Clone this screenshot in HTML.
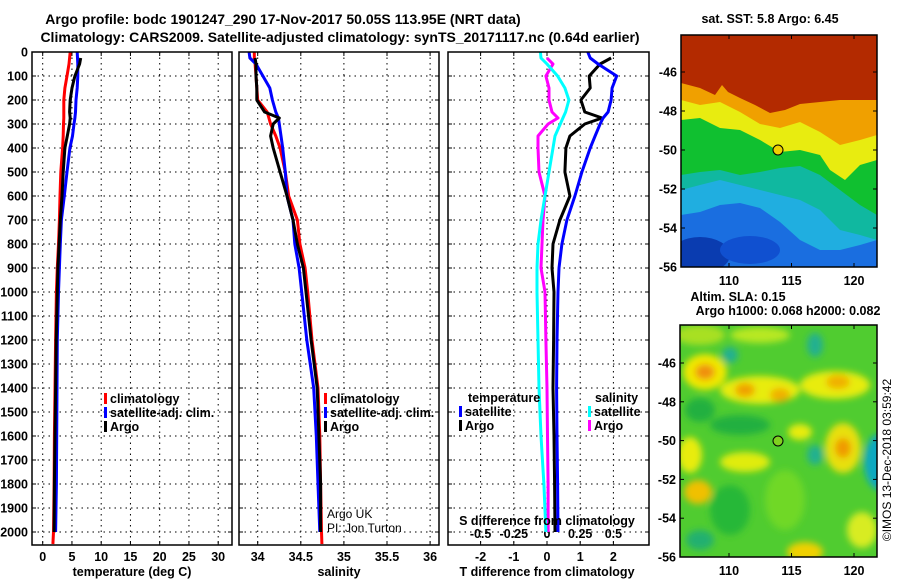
<!DOCTYPE html>
<html><head><meta charset="utf-8"><style>
html,body{margin:0;padding:0;background:#fff;}
svg{display:block;font-family:"Liberation Sans",Arial,sans-serif;}
.t{font-weight:bold;font-size:12.5px;fill:#000;}
.ti{font-weight:bold;font-size:14px;fill:#000;}
</style></head><body>
<svg id="fig" width="900" height="580" viewBox="0 0 900 580" xmlns="http://www.w3.org/2000/svg">
<defs>
<filter id="blur" x="-20%" y="-20%" width="140%" height="140%"><feGaussianBlur stdDeviation="3.5"/></filter>
<clipPath id="c1"><rect x="681" y="35" width="196" height="232"/></clipPath>
<clipPath id="c2"><rect x="680" y="325" width="197" height="232"/></clipPath>
</defs>
<text class="ti" x="283" y="24" text-anchor="middle">Argo profile: bodc 1901247_290 17-Nov-2017 50.05S 113.95E (NRT data)</text>
<text class="ti" x="340" y="42" text-anchor="middle">Climatology: CARS2009. Satellite-adjusted climatology: synTS_20171117.nc (0.64d earlier)</text>
<g id="plots"></g>

<!-- SST map -->
<g>
<text class="t" x="770" y="23" text-anchor="middle">sat. SST: 5.8 Argo: 6.45</text>
<g clip-path="url(#c1)">
<rect x="681" y="35" width="196" height="232" fill="#1a6ee0"/>
<ellipse cx="700" cy="255" rx="30" ry="18" fill="#0a3cb0"/>
<ellipse cx="750" cy="250" rx="30" ry="14" fill="#1050d0"/>
<polygon fill="#20aee0" points="681,35 681,215 700,212 720,205 740,203 760,208 780,222 800,240 820,250 840,250 860,245 877,240 877,35"/>
<polygon fill="#10b8a0" points="681,35 681,190 700,185 720,180 740,185 760,190 780,195 800,200 820,210 840,230 860,235 877,240 877,35"/>
<polygon fill="#10c030" points="681,35 681,175 700,172 720,170 740,175 760,172 780,168 800,166 820,175 840,190 860,205 877,215 877,35"/>
<polygon fill="#e8ec10" points="681,35 681,120 700,118 720,128 740,130 760,140 780,152 800,150 820,155 830,170 845,180 860,165 877,160 877,35"/>
<polygon fill="#f0a000" points="681,35 681,100 700,105 720,102 740,112 760,124 780,128 800,122 820,132 840,145 860,140 877,135 877,35"/>
<polygon fill="#b32a00" points="681,35 681,83 700,88 715,95 722,85 728,92 740,98 755,105 770,113 785,110 800,104 820,102 840,100 860,100 877,100 877,35"/>
</g>
<rect x="681" y="35" width="196" height="232" fill="none" stroke="#000" stroke-width="1.5"/>
<circle cx="778" cy="150" r="5" fill="#f0d000" stroke="#000"/>
<g id="m1ticks"></g>
</g>

<!-- SLA map -->
<g>
<text class="t" x="738" y="301" text-anchor="middle">Altim. SLA: 0.15</text>
<text class="t" x="788" y="315" text-anchor="middle">Argo h1000: 0.068 h2000: 0.082</text>
<g clip-path="url(#c2)">
<rect x="680" y="325" width="197" height="232" fill="#50cc30"/>
<g filter="url(#blur)">
<ellipse cx="700" cy="335" rx="25" ry="10" fill="#a8e020"/>
<ellipse cx="760" cy="335" rx="30" ry="8" fill="#b8e820"/>
<ellipse cx="740" cy="425" rx="30" ry="10" fill="#20b040"/>
<ellipse cx="700" cy="410" rx="15" ry="12" fill="#20b040"/>
<ellipse cx="730" cy="510" rx="20" ry="25" fill="#28b838"/>
<ellipse cx="785" cy="500" rx="20" ry="30" fill="#70d828"/>
<ellipse cx="705" cy="372" rx="22" ry="18" fill="#f0e800"/>
<ellipse cx="705" cy="372" rx="10" ry="8" fill="#f09010"/>
<ellipse cx="760" cy="390" rx="40" ry="14" fill="#e8ec10"/>
<ellipse cx="745" cy="390" rx="10" ry="7" fill="#f0a000"/>
<ellipse cx="780" cy="395" rx="10" ry="7" fill="#f0b000"/>
<ellipse cx="835" cy="385" rx="35" ry="14" fill="#e8ec10"/>
<ellipse cx="838" cy="382" rx="12" ry="7" fill="#f0b000"/>
<ellipse cx="690" cy="455" rx="12" ry="18" fill="#e8ec10"/>
<ellipse cx="698" cy="492" rx="14" ry="12" fill="#f0c000"/>
<ellipse cx="745" cy="462" rx="25" ry="10" fill="#e0ec10"/>
<ellipse cx="800" cy="432" rx="12" ry="8" fill="#e8ec10"/>
<ellipse cx="843" cy="448" rx="18" ry="25" fill="#e8e010"/>
<ellipse cx="843" cy="448" rx="8" ry="10" fill="#f09a00"/>
<ellipse cx="805" cy="552" rx="18" ry="10" fill="#f0d000"/>
<ellipse cx="862" cy="530" rx="15" ry="18" fill="#d8ec20"/>
<ellipse cx="880" cy="462" rx="16" ry="28" fill="#10a8c0"/>
<ellipse cx="815" cy="345" rx="8" ry="12" fill="#20b090"/>
<ellipse cx="730" cy="355" rx="8" ry="8" fill="#20b090"/>
<ellipse cx="815" cy="455" rx="8" ry="10" fill="#20b090"/>
<ellipse cx="700" cy="540" rx="14" ry="10" fill="#20b070"/>
</g>
</g>
<rect x="680" y="325" width="197" height="232" fill="none" stroke="#000" stroke-width="1.5"/>
<circle cx="778" cy="441" r="5" fill="#80d020" stroke="#000"/>
<g id="m2ticks"></g>
<text x="891" y="460" font-size="12" text-anchor="middle" transform="rotate(-90 891 460)">©IMOS 13-Dec-2018 03:59:42</text>
</g>

<script>
const depths = [0,25,50,100,150,200,250,275,300,350,400,500,600,700,800,900,1000,1200,1400,1600,1800,2000,2050];
const tempClim = [4.7,4.6,4.5,4.15,3.8,3.6,3.6,3.6,3.55,3.5,3.4,3.1,2.95,2.85,2.7,2.5,2.35,2.2,2.1,2.0,1.95,1.85,1.75];
const tempSat = [5.9,5.95,6.0,6.0,5.9,5.7,5.6,5.5,5.35,5.1,4.65,4.15,3.7,3.2,3.0,2.85,2.7,2.5,2.45,2.4,2.35,2.2,null];
const tempArgo = [null,6.5,6.3,5.5,5.0,4.7,4.6,4.7,4.6,4.2,3.8,3.5,3.3,3.0,2.8,2.6,2.5,2.3,2.2,2.1,2.0,1.95,null];
const salClim = [33.96,33.96,33.97,33.98,33.99,34.0,34.11,34.13,34.15,34.21,34.26,34.32,34.36,34.46,34.49,34.55,34.58,34.63,34.70,34.72,34.73,34.74,34.745];
const salSat = [33.90,33.91,33.98,34.06,34.14,34.17,34.21,34.24,34.25,34.27,34.29,34.32,34.34,34.41,34.43,34.48,34.51,34.57,34.65,34.68,34.70,34.72,null];
const salArgo = [null,33.97,33.98,33.98,33.99,33.99,34.08,34.25,34.18,34.15,34.18,34.26,34.34,34.41,34.46,34.53,34.56,34.62,34.69,34.71,34.73,34.73,null];
const tDiffSat = [1.23,1.3,1.54,2.1,1.96,1.93,1.84,1.69,1.6,1.45,1.3,1.05,0.84,0.6,0.45,0.36,0.33,0.3,0.29,0.3,0.32,0.33,null];
const tDiffArgo = [null,1.93,1.6,1.27,1.3,1.02,1.14,1.66,1.14,0.69,0.57,0.54,0.69,0.39,0.18,0.15,0.21,0.2,0.18,0.21,0.23,0.24,null];
const sDiffSat = [-0.05,-0.045,0,0.08,0.135,0.165,0.14,0.12,0.1,0.06,0.045,0.015,-0.015,-0.045,-0.068,-0.075,-0.075,-0.068,-0.06,-0.045,-0.023,-0.008,null];
const sDiffArgo = [null,0,0.045,-0.008,0.015,0.015,0.038,0.083,0.008,-0.068,-0.068,-0.06,-0.015,-0.03,-0.038,-0.045,-0.015,-0.008,0,0.004,0.008,0.008,null];
const depthTicks = [0,100,200,300,400,500,600,700,800,900,1000,1100,1200,1300,1400,1500,1600,1700,1800,1900,2000];
const tempTicks = [0,5,10,15,20,25,30];
const salTicks = [34,34.5,35,35.5,36];
const salTickLabels = ["34","34.5","35","35.5","36"];
const tDiffTicks = [-2,-1,0,1,2];
const sDiffTicks = [-0.5,-0.25,0,0.25,0.5];
const sDiffTickLabels = ["-0.5","-0.25","0","0.25","0.5"];
const latTicks = [-46,-48,-50,-52,-54,-56];
const lonTicks = [110,115,120];

const NS="http://www.w3.org/2000/svg";
const root=document.getElementById('plots');
function mk(tag,attrs,parent){const e=document.createElementNS(NS,tag);for(const k in attrs)e.setAttribute(k,attrs[k]);(parent||root).appendChild(e);return e;}
const yD=d=>52+d*0.24;
const TOP=52,BOT=545;
const xT=t=>42.7+t*5.85;
const xS=s=>257.7+(s-34)*86.2;
const xTD=v=>547+v*33.2;
const xSD=v=>547+v*132.8;
const panels=[{x0:32,x1:232,name:'temperature'},{x0:239,x1:439,name:'salinity'},{x0:448,x1:649,name:'difference'}];

function line(vals,xf,color,name){
  let pts=[];
  vals.forEach((v,i)=>{if(v!==null)pts.push(xf(v).toFixed(1)+','+yD(depths[i]).toFixed(1));});
  const p=mk('polyline',{points:pts.join(' '),fill:'none',stroke:color,'stroke-width':3,'stroke-linejoin':'round'});
  
  
}
panels.forEach((p,pi)=>{
  const g=mk('g',{});
  
  
  depthTicks.forEach(d=>{
    mk('line',{x1:p.x0,x2:p.x1,y1:yD(d),y2:yD(d),stroke:'#000','stroke-dasharray':'1.5,4','stroke-width':1},g);
    mk('line',{x1:p.x0,x2:p.x0+4,y1:yD(d),y2:yD(d),stroke:'#000'},g);
    mk('line',{x1:p.x1-4,x2:p.x1,y1:yD(d),y2:yD(d),stroke:'#000'},g);
  });
  let xs=pi==0?tempTicks.map(xT):pi==1?salTicks.map(xS):tDiffTicks.map(xTD);
  xs.forEach(x=>{mk('line',{x1:x,x2:x,y1:TOP,y2:BOT,stroke:'#000','stroke-dasharray':'1.5,4','stroke-width':1},g);
    mk('line',{x1:x,x2:x,y1:BOT-4,y2:BOT,stroke:'#000'},g);mk('line',{x1:x,x2:x,y1:TOP,y2:TOP+4,stroke:'#000'},g);});
});
depthTicks.forEach(d=>{
  const t=mk('text',{class:'t',x:28,y:yD(d)+4.5,'text-anchor':'end'});t.textContent=d;
  
  
});
tempTicks.forEach(v=>{const t=mk('text',{class:'t',x:xT(v),y:561,'text-anchor':'middle'});t.textContent=v;
  
  });
salTicks.forEach((v,i)=>{const t=mk('text',{class:'t',x:xS(v),y:561,'text-anchor':'middle'});t.textContent=salTickLabels[i];
  
  });
tDiffTicks.forEach(v=>{const t=mk('text',{class:'t',x:xTD(v),y:561,'text-anchor':'middle'});t.textContent=v;
  
  });
sDiffTicks.forEach((v,i)=>{const t=mk('text',{class:'t',x:xSD(v),y:538,'text-anchor':'middle'});t.textContent=sDiffTickLabels[i];
  
  });

line(tempClim,xT,'#ff0000','temp-climatology-line');
line(tempSat,xT,'#0000ff','temp-satellite-line');
line(tempArgo,xT,'#000','temp-argo-line');
line(salClim,xS,'#ff0000','sal-climatology-line');
line(salSat,xS,'#0000ff','sal-satellite-line');
line(salArgo,xS,'#000','sal-argo-line');
line(sDiffArgo,xSD,'#ff00ff','s-diff-argo-line');
line(sDiffSat,xSD,'#00ffff','s-diff-satellite-line');
line(tDiffArgo,xTD,'#000','t-diff-argo-line');
line(tDiffSat,xTD,'#0000ff','t-diff-satellite-line');

panels.forEach(p=>{const r=mk('rect',{x:p.x0,y:TOP,width:p.x1-p.x0,height:BOT-TOP,fill:'none',stroke:'#000','stroke-width':1.5});
  
  });

function txt(x,y,s,name,extra){const t=mk('text',Object.assign({class:'t',x:x,y:y},extra||{}));t.textContent=s;
  
  return t;}
txt(132,576,'temperature (deg C)','temperature-axis-title',{'text-anchor':'middle'});
txt(339,576,'salinity','salinity-axis-title',{'text-anchor':'middle'});
txt(547,576,'T difference from climatology','t-diff-axis-title',{'text-anchor':'middle'});
txt(547,525,'S difference from climatology','s-diff-axis-title',{'text-anchor':'middle'});
function leg(x,y,color,label,name){
  const r=mk('rect',{x:x,y:y-10,width:3,height:11,fill:color});
  
  
  txt(x+6,y,label,name);
}
[[104,'temp'],[324,'sal']].forEach(([x,n])=>{
  leg(x,403,'#ff0000','climatology',n+'-legend-climatology');
  leg(x,417,'#0000ff','satellite-adj. clim.',n+'-legend-satellite');
  leg(x,431,'#000','Argo',n+'-legend-argo');
});
txt(468,402,'temperature','diff-legend-temperature-heading');
leg(459,416,'#0000ff','satellite','diff-legend-t-satellite');
leg(459,430,'#000','Argo','diff-legend-t-argo');
txt(595,402,'salinity','diff-legend-salinity-heading');
leg(588,416,'#00ffff','satellite','diff-legend-s-satellite');
leg(588,430,'#ff00ff','Argo','diff-legend-s-argo');
const a1=mk('text',{x:327,y:518,'font-size':12});a1.textContent='Argo UK';


const a2=mk('text',{x:327,y:532,'font-size':12});a2.textContent='PI: Jon Turton';



function mapTicks(gid,x0,x1,yTop,y46,y56,lonY){
  const g=document.getElementById(gid);
  const py=(y56-y46)/10;
  latTicks.forEach(l=>{const y=y46+(-46-l)*py;
    mk('line',{x1:x0,x2:x0+4,y1:y,y2:y,stroke:'#000'},g);mk('line',{x1:x1-4,x2:x1,y1:y,y2:y,stroke:'#000'},g);
    const t=mk('text',{class:'t',x:x0-4,y:y+4.5,'text-anchor':'end'},g);t.textContent=l;
    
    });
  lonTicks.forEach(l=>{const x=729+(l-110)*12.5;
    mk('line',{x1:x,x2:x,y1:y56-4,y2:y56,stroke:'#000'},g);mk('line',{x1:x,x2:x,y1:yTop,y2:yTop+4,stroke:'#000'},g);
    const t=mk('text',{class:'t',x:x,y:lonY,'text-anchor':'middle'},g);t.textContent=l;
    
    });
}
mapTicks('m1ticks',681,877,35,72,267,285);
mapTicks('m2ticks',680,877,325,363,557,575);
</script>
</svg>
</body></html>
